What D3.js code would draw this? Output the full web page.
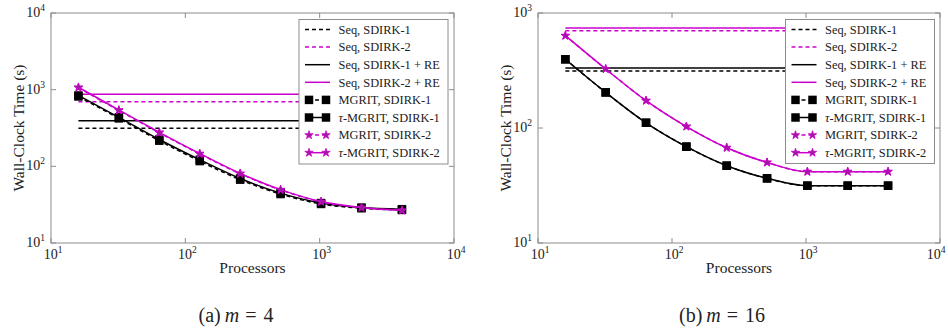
<!DOCTYPE html>
<html>
<head>
<meta charset="utf-8">
<script src="https://cdn.jsdelivr.net/npm/d3@7"></script>
<style>
  body { margin: 0; background: #fff; }
  svg { display: block; }
</style>
</head>
<body>
<svg id="chart" width="948" height="330" font-family="'Liberation Serif', 'DejaVu Serif', 'Times New Roman', Times, serif"></svg>
<script>
// processor counts (x values, both panels)
const procs = [16, 32, 64, 128, 256, 512, 1024, 2048, 4096];

// sequential reference times: SDIRK-1, SDIRK-2, SDIRK-1 + RE, SDIRK-2 + RE
const seqA = [314, 698, 394, 871];
const seqB = [313, 702, 333, 741];

// (a) m = 4
const mgrit1A    = [815, 422, 216, 117, 67, 43.5, 32.3, 28.4, 27.0];
const tauMgrit1A = [840, 436, 224, 122, 69.5, 44.7, 33.2, 29.0, 27.6];
const mgrit2A    = [1060, 536, 274, 145, 80, 49.2, 34.4, 28.9, 26.5];
const tauMgrit2A = [1075, 543, 278, 147, 81, 49.7, 34.7, 29.0, 26.7];

// (b) m = 16
const mgrit1B    = [396, 204, 111, 68.8, 47, 36.5, 31.5, 31.5, 31.5];
const tauMgrit1B = [396, 204, 111, 68.8, 47, 36.5, 31.5, 31.5, 31.5];
const mgrit2B    = [635, 326, 173, 103, 67.4, 50.2, 41.7, 41.7, 41.7];
const tauMgrit2B = [635, 326, 173, 103, 67.4, 50.2, 41.7, 41.7, 41.7];

const xTicks = [1e1, 1e2, 1e3, 1e4];
const yTicksA = [1e1, 1e2, 1e3, 1e4];
const yTicksB = [1e1, 1e2, 1e3];

const seqLabels = ["Seq, SDIRK-1", "Seq, SDIRK-2", "Seq, SDIRK-1 + RE", "Seq, SDIRK-2 + RE"];
const mgritLabels = ["MGRIT, SDIRK-1", "-MGRIT, SDIRK-1", "MGRIT, SDIRK-2", "-MGRIT, SDIRK-2"];
const captions = [["(a)", "4"], ["(b)", "16"]];

const BLACK = "#000";
const MAG = "#cc00cc";
const STARFILL = "#a01aa0";
const FRAME = "#8c8c8c";
const TXT = "#222";

const svg = d3.select("#chart");

const panels = [
  { left: 51, right: 454, top: 13, bottom: 243, yDomain: [1e1, 1e4], yTicks: yTicksA,
    seq: seqA, mg: [mgrit1A, tauMgrit1A, mgrit2A, tauMgrit2A],
    legend: { x: 299, y: 19.5, w: 149, h: 144.5 }, caption: captions[0], capX: 236 },
  { left: 538, right: 940, top: 13, bottom: 243, yDomain: [1e1, 1e3], yTicks: yTicksB,
    seq: seqB, mg: [mgrit1B, tauMgrit1B, mgrit2B, tauMgrit2B],
    legend: { x: 785.5, y: 19.5, w: 149, h: 144 }, caption: captions[1], capX: 722 }
];

// series styles: [color, dashed, marker]
const seqStyle = [[BLACK, true], [MAG, true], [BLACK, false], [MAG, false]];
const mgStyle = [[BLACK, true, "sq"], [BLACK, false, "sq"], [MAG, true, "star"], [MAG, false, "star"]];

function powLabel(sel, v) {
  const e = Math.round(Math.log10(v));
  sel.text("10");
  sel.append("tspan").attr("dy", -6).attr("font-size", 9.5).text(e);
}

function marker(g, type, x, y) {
  if (type === "sq") {
    g.append("path")
      .attr("d", d3.symbol().type(d3.symbolSquare).size(72)())
      .attr("transform", `translate(${x},${y})`)
      .attr("fill", BLACK);
  } else {
    g.append("path")
      .attr("d", d3.symbol().type(d3.symbolStar).size(22)())
      .attr("transform", `translate(${x},${y})`)
      .attr("fill", STARFILL)
      .attr("stroke", MAG)
      .attr("stroke-width", 0.8);
  }
}

panels.forEach(p => {
  const g = svg.append("g");

  const x = d3.scaleLog().domain([1e1, 1e4]).range([p.left, p.right]);
  const y = d3.scaleLog().domain(p.yDomain).range([p.bottom, p.top]);

  // sequential horizontal lines
  p.seq.forEach((v, i) => {
    g.append("line")
      .attr("x1", x(procs[0])).attr("x2", x(procs[procs.length - 1]))
      .attr("y1", y(v)).attr("y2", y(v))
      .attr("stroke", seqStyle[i][0])
      .attr("stroke-width", 1.5)
      .attr("stroke-dasharray", seqStyle[i][1] ? "4,3" : null);
  });

  const line = d3.line()
    .x((d, i) => x(procs[i]))
    .y(d => y(d))
    .curve(d3.curveMonotoneX);

  p.mg.forEach((vals, i) => {
    const st = mgStyle[i];
    g.append("path")
      .attr("d", line(vals))
      .attr("fill", "none")
      .attr("stroke", st[0])
      .attr("stroke-width", 1.5)
      .attr("stroke-dasharray", st[1] ? "4,3" : null);
    vals.forEach((v, j) => marker(g, st[2], x(procs[j]), y(v)));
  });

  // frame
  g.append("rect")
    .attr("x", p.left).attr("y", p.top)
    .attr("width", p.right - p.left).attr("height", p.bottom - p.top)
    .attr("fill", "none").attr("stroke", FRAME).attr("stroke-width", 1);

  // ticks inward on all sides
  const tl = 5;
  xTicks.forEach(t => {
    g.append("line").attr("x1", x(t)).attr("x2", x(t))
      .attr("y1", p.bottom).attr("y2", p.bottom - tl).attr("stroke", FRAME);
    g.append("line").attr("x1", x(t)).attr("x2", x(t))
      .attr("y1", p.top).attr("y2", p.top + tl).attr("stroke", FRAME);
    g.append("text")
      .attr("x", Math.min(x(t) + 2, 936)).attr("y", p.bottom + 16)
      .attr("text-anchor", "middle").attr("font-size", 14).attr("fill", TXT)
      .call(powLabel, t);
  });
  p.yTicks.forEach(t => {
    g.append("line").attr("y1", y(t)).attr("y2", y(t))
      .attr("x1", p.left).attr("x2", p.left + tl).attr("stroke", FRAME);
    g.append("line").attr("y1", y(t)).attr("y2", y(t))
      .attr("x1", p.right).attr("x2", p.right - tl).attr("stroke", FRAME);
    g.append("text")
      .attr("x", p.left - 6).attr("y", y(t) + 4)
      .attr("text-anchor", "end").attr("font-size", 14).attr("fill", TXT)
      .call(powLabel, t);
  });

  // axis labels
  g.append("text")
    .attr("x", (p.left + p.right) / 2).attr("y", p.bottom + 30)
    .attr("text-anchor", "middle").attr("font-size", 15.5).attr("fill", TXT)
    .text("Processors");
  g.append("text")
    .attr("transform", `translate(${p.left - 27},${(p.top + p.bottom) / 2}) rotate(-90)`)
    .attr("text-anchor", "middle").attr("font-size", 15.5).attr("fill", TXT)
    .text("Wall-Clock Time (s)");

  // legend
  const L = p.legend;
  const lg = g.append("g");
  lg.append("rect")
    .attr("x", L.x).attr("y", L.y).attr("width", L.w).attr("height", L.h)
    .attr("fill", "#fff").attr("stroke", FRAME).attr("stroke-width", 1);
  const rowH = 17.6;
  const sx0 = L.x + 6, sx1 = L.x + 31, tx = L.x + 39.5;
  seqLabels.concat(mgritLabels).forEach((lab, i) => {
    const ry = L.y + 10 + i * rowH;
    const st = i < 4 ? seqStyle[i] : mgStyle[i - 4];
    lg.append("line")
      .attr("x1", sx0 + (st[2] ? 3 : 0)).attr("x2", sx1 - (st[2] ? 3 : 0))
      .attr("y1", ry).attr("y2", ry)
      .attr("stroke", st[0]).attr("stroke-width", 1.5)
      .attr("stroke-dasharray", st[1] ? "4,3" : null);
    if (st[2]) {
      marker(lg, st[2], sx0 + 4, ry);
      marker(lg, st[2], sx1 - 4, ry);
    }
    const t = lg.append("text")
      .attr("x", tx).attr("y", ry + 4.3).attr("font-size", 12.4).attr("fill", TXT);
    if (i === 5 || i === 7) {
      t.append("tspan").attr("font-style", "italic").text("τ");
    }
    t.append("tspan").text(lab);
  });

  // caption
  const c = svg.append("text")
    .attr("x", p.capX).attr("y", 322)
    .attr("text-anchor", "middle").attr("font-size", 20).attr("fill", TXT);
  c.append("tspan").text(p.caption[0]);
  c.append("tspan").attr("dx", 4).attr("font-style", "italic").text("m");
  c.append("tspan").attr("dx", 6).text("=");
  c.append("tspan").attr("dx", 7).text(p.caption[1]);
});
</script>
</body>
</html>
